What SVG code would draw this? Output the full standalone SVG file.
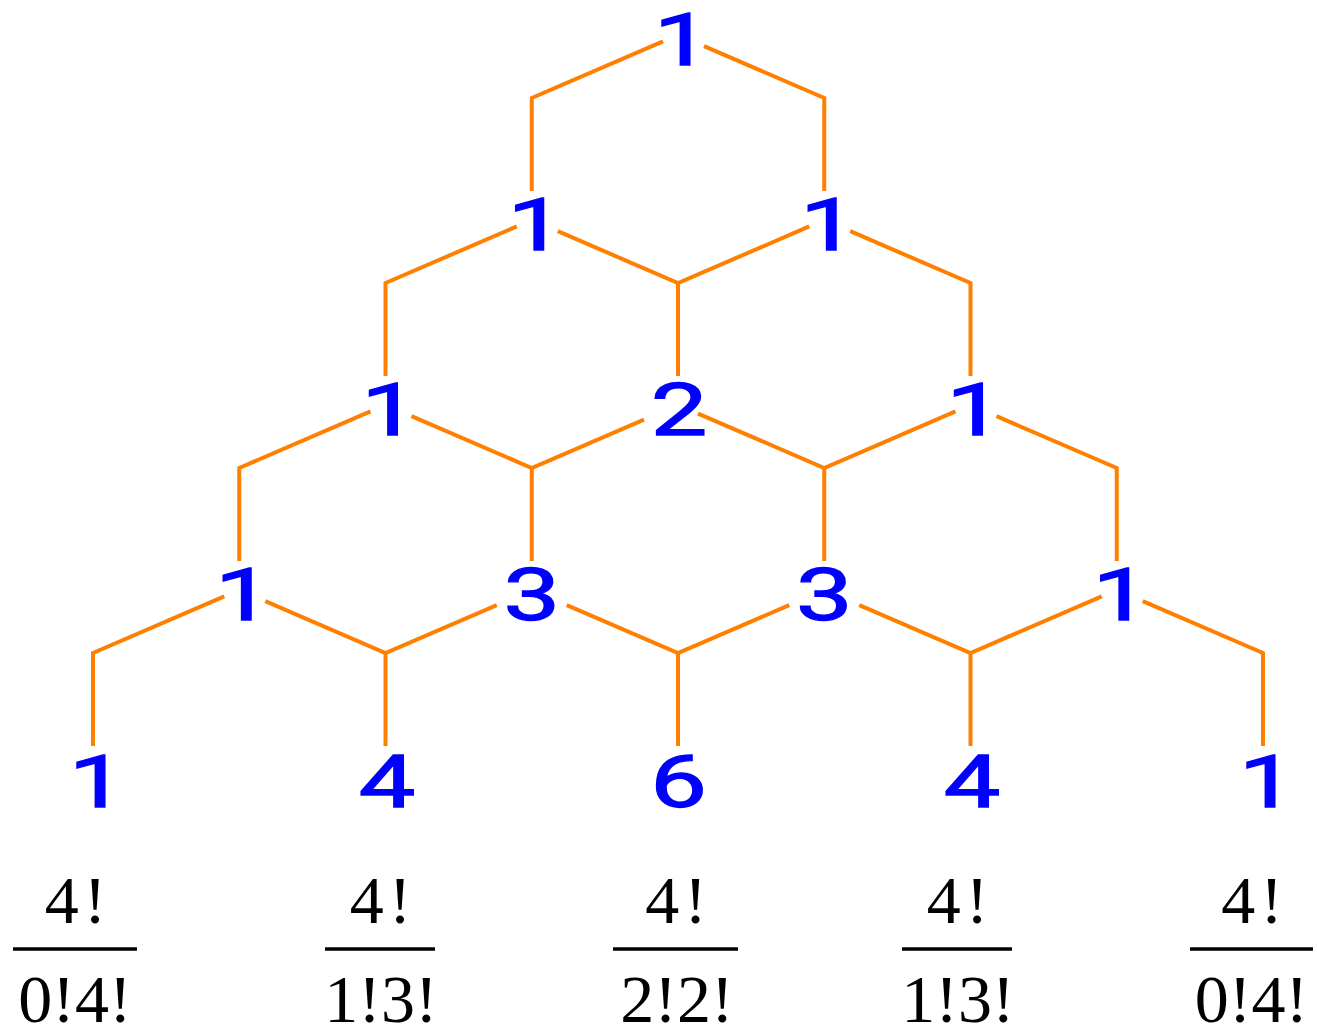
<svg xmlns="http://www.w3.org/2000/svg" width="1317" height="1027" viewBox="0 0 1317 1027">
<style>
.e{fill:none;stroke:#FF8000;stroke-width:4;stroke-linejoin:miter}
.n{font-family:Roboto,'Noto Sans',sans-serif;font-size:72px;font-weight:400;fill:#0000FF;stroke:#0000FF;stroke-width:1.3;text-anchor:middle}
.f{font-family:'Liberation Serif',serif;font-size:68px;fill:#000;text-anchor:middle}
.b{stroke:#000;stroke-width:3.5}
</style>
<rect width="1317" height="1027" fill="#fff"/>
<g id="connectors">
<path class="e" d="M663 41.46 L531.75 98 L531.75 191"/>
<path class="e" d="M704 46.2 L824.25 98 L824.25 191"/>
<path class="e" d="M516.75 226.46 L385.5 283 L385.5 376"/>
<path class="e" d="M557.75 231.2 L678 283 L809.25 226.46 M678 283 L678 376"/>
<path class="e" d="M850.25 231.2 L970.5 283 L970.5 376"/>
<path class="e" d="M370.5 411.46 L239.25 468 L239.25 561"/>
<path class="e" d="M411.5 416.2 L531.75 468 L644 419.65 M531.75 468 L531.75 561"/>
<path class="e" d="M698 413.62 L824.25 468 L955.5 411.46 M824.25 468 L824.25 561"/>
<path class="e" d="M996.5 416.2 L1116.75 468 L1116.75 561"/>
<path class="e" d="M224.25 596.46 L93 653 L93 746"/>
<path class="e" d="M265.25 601.2 L385.5 653 L496.75 605.08 M385.5 653 L385.5 746"/>
<path class="e" d="M566.75 605.08 L678 653 L789.25 605.08 M678 653 L678 746"/>
<path class="e" d="M859.25 605.08 L970.5 653 L1101.75 596.46 M970.5 653 L970.5 746"/>
<path class="e" d="M1142.75 601.2 L1263 653 L1263 746"/>
</g>
<g id="n00"><text class="n" transform="translate(682,65) scale(1.4,1)">1</text></g>
<g id="n10"><text class="n" transform="translate(535.75,250) scale(1.4,1)">1</text></g>
<g id="n11"><text class="n" transform="translate(828.25,250) scale(1.4,1)">1</text></g>
<g id="n20"><text class="n" transform="translate(389.5,435) scale(1.4,1)">1</text></g>
<g id="n21"><text class="n" transform="translate(679,435) scale(1.4,1)">2</text></g>
<g id="n22"><text class="n" transform="translate(974.5,435) scale(1.4,1)">1</text></g>
<g id="n30"><text class="n" transform="translate(243.25,620) scale(1.4,1)">1</text></g>
<g id="n31"><text class="n" transform="translate(531.75,620) scale(1.4,1)">3</text></g>
<g id="n32"><text class="n" transform="translate(824.25,620) scale(1.4,1)">3</text></g>
<g id="n33"><text class="n" transform="translate(1120.75,620) scale(1.4,1)">1</text></g>
<g id="n40"><text class="n" transform="translate(97,807) scale(1.4,1)">1</text></g>
<g id="n41"><text class="n" transform="translate(387,807) scale(1.4,1)">4</text></g>
<g id="n42"><text class="n" transform="translate(678.5,807) scale(1.4,1)">6</text></g>
<g id="n43"><text class="n" transform="translate(972,807) scale(1.4,1)">4</text></g>
<g id="n44"><text class="n" transform="translate(1267,807) scale(1.4,1)">1</text></g>
<g id="frac0"><text class="f" x="78" y="923" letter-spacing="5">4!</text><line class="b" x1="13" y1="949" x2="137" y2="949"/><text class="f" x="75" y="1022">0!4!</text></g>
<g id="frac1"><text class="f" x="383" y="923" letter-spacing="5">4!</text><line class="b" x1="325" y1="949" x2="435" y2="949"/><text class="f" x="381" y="1022">1!3!</text></g>
<g id="frac2"><text class="f" x="678.5" y="923" letter-spacing="5">4!</text><line class="b" x1="613" y1="949" x2="738" y2="949"/><text class="f" x="677" y="1022">2!2!</text></g>
<g id="frac3"><text class="f" x="960" y="923" letter-spacing="5">4!</text><line class="b" x1="902" y1="949" x2="1012" y2="949"/><text class="f" x="958" y="1022">1!3!</text></g>
<g id="frac4"><text class="f" x="1254.5" y="923" letter-spacing="5">4!</text><line class="b" x1="1190" y1="949" x2="1313" y2="949"/><text class="f" x="1251.5" y="1022">0!4!</text></g>
</svg>
